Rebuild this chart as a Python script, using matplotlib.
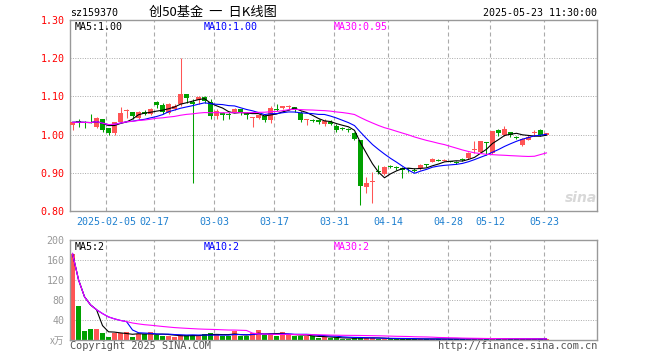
import matplotlib
matplotlib.use('Agg')
import matplotlib.pyplot as plt
import pandas as pd

# daily OHLC (index 0 = first candle)
opens = [1.026, 1.034, 1.032, 1.033, 1.019, 1.040, 1.016, 1.004, 1.033, 1.061,
         1.059, 1.044, 1.058, 1.055, 1.085, 1.078, 1.057, 1.067, 1.079, 1.105,
         1.086, 1.090, 1.099, 1.085, 1.048, 1.057, 1.055, 1.060, 1.066, 1.057,
         1.043, 1.044, 1.048, 1.038, 1.068, 1.069, 1.071, 1.073, 1.057, 1.039,
         1.038, 1.038, 1.028, 1.033, 1.022, 1.016, 1.014, 1.003, 0.985, 0.862,
         0.875, 0.906, 0.897, 0.918, 0.915, 0.913, 0.911, 0.908, 0.912, 0.922,
         0.927, 0.934, 0.932, 0.930, 0.927, 0.935, 0.939, 0.959, 0.955, 0.981,
         0.952, 1.013, 1.000, 1.006, 0.992, 0.974, 0.987, 1.005, 1.013, 1.000]
highs = [1.032, 1.042, 1.036, 1.053, 1.045, 1.042, 1.017, 1.034, 1.073, 1.068,
         1.059, 1.062, 1.064, 1.070, 1.087, 1.083, 1.084, 1.080, 1.201, 1.106,
         1.092, 1.101, 1.102, 1.092, 1.068, 1.060, 1.058, 1.070, 1.066, 1.058,
         1.046, 1.055, 1.052, 1.074, 1.079, 1.075, 1.078, 1.073, 1.063, 1.042,
         1.042, 1.040, 1.042, 1.037, 1.027, 1.019, 1.018, 1.007, 0.987, 0.890,
         0.903, 0.921, 0.917, 0.921, 0.917, 0.915, 0.913, 0.912, 0.924, 0.924,
         0.938, 0.937, 0.937, 0.932, 0.930, 0.938, 0.955, 0.982, 0.983, 0.981,
         1.010, 1.014, 1.022, 1.007, 0.996, 0.991, 0.999, 1.013, 1.014, 1.005]
lows = [1.011, 1.021, 1.017, 1.030, 1.018, 1.008, 0.999, 1.000, 1.033, 1.044,
        1.041, 1.040, 1.052, 1.052, 1.070, 1.053, 1.055, 1.064, 1.076, 1.083,
        0.873, 1.080, 1.084, 1.041, 1.041, 1.038, 1.040, 1.058, 1.052, 1.040,
        1.020, 1.042, 1.032, 1.031, 1.061, 1.066, 1.064, 1.058, 1.032, 1.026,
        1.032, 1.029, 1.022, 1.024, 1.008, 1.011, 1.006, 0.985, 0.816, 0.848,
        0.822, 0.896, 0.895, 0.913, 0.908, 0.886, 0.902, 0.902, 0.907, 0.916,
        0.927, 0.930, 0.930, 0.927, 0.924, 0.930, 0.935, 0.952, 0.953, 0.947,
        0.950, 0.997, 0.996, 0.995, 0.989, 0.969, 0.985, 0.997, 0.997, 0.998]
closes = [1.032, 1.033, 1.031, 1.030, 1.043, 1.011, 1.003, 1.032, 1.057, 1.063,
          1.048, 1.060, 1.053, 1.068, 1.078, 1.060, 1.079, 1.076, 1.105, 1.097,
          1.081, 1.099, 1.088, 1.048, 1.061, 1.052, 1.052, 1.068, 1.057, 1.052,
          1.046, 1.052, 1.037, 1.070, 1.064, 1.074, 1.073, 1.066, 1.037, 1.040,
          1.036, 1.032, 1.035, 1.028, 1.013, 1.014, 1.012, 0.989, 0.865, 0.874,
          0.878, 0.903, 0.915, 0.916, 0.913, 0.908, 0.909, 0.906, 0.921, 0.920,
          0.936, 0.932, 0.934, 0.929, 0.926, 0.933, 0.953, 0.961, 0.982, 0.979,
          1.009, 1.003, 1.015, 0.999, 0.991, 0.989, 0.995, 1.006, 0.998, 1.004]
# volume in 万
volumes = [173, 68, 18, 22, 22, 14, 6, 15, 14, 16,
           6, 12, 12, 16, 11, 8, 8, 6, 10, 10,
           10, 8, 12, 14, 12, 8, 8, 18, 8, 8,
           14, 20, 10, 12, 8, 16, 10, 8, 8, 8,
           8, 4, 6, 4, 4, 3, 3, 4, 6, 4,
           4, 2, 2, 2, 2, 2, 2, 2, 2, 2,
           2, 2, 2, 2, 2, 2, 3, 3, 3, 2,
           3, 2, 2, 2, 2, 2, 2, 2, 2, 2]

tick_idx = [6, 14, 24, 34, 44, 53, 63, 70, 79]
tick_labels = ['2025-02-05', '02-17', '03-03', '03-17', '03-31',
               '04-14', '04-28', '05-12', '05-23']
price_ticks = [0.80, 0.90, 1.00, 1.10, 1.20, 1.30]
vol_ticks = [40, 80, 120, 160, 200]

RED = '#ff5555'
GREEN = '#00a000'
FRAME = '#999999'
MONO = 'DejaVu Sans Mono'
CJK = ['Noto Sans CJK SC', 'DejaVu Sans']

W, H = 660, 360
fig = plt.figure(figsize=(6.6, 3.6), dpi=100)


def fx(x):
    return x / W


def fy(y):
    return 1 - y / H


ax = fig.add_axes([fx(70), fy(211), fx(597) - fx(70), fy(20) - fy(211)])
axv = fig.add_axes([fx(70), fy(340), fx(597) - fx(70), fy(240) - fy(340)])

n = len(closes)
x = list(range(n))
up = [c >= o for o, c in zip(opens, closes)]
cols = [RED if u else GREEN for u in up]
xmin, xmax = -0.42, 87.42
grid_x = [i - 0.35 for i in tick_idx]

# price panel
for gy in price_ticks[1:-1]:
    ax.axhline(gy, color='#aaaaaa', lw=0.7, ls=(0, (1, 1.5)), zorder=0)
for gx in grid_x:
    ax.axvline(gx, color='#aaaaaa', lw=0.8, ls=(0, (3.6, 2.7)), zorder=0)

ax.vlines(x, lows, highs, colors=cols, lw=0.75, zorder=2)
bottoms = [min(o, c) for o, c in zip(opens, closes)]
heights = [max(abs(c - o), 0.0026) for o, c in zip(opens, closes)]
ax.bar(x, heights, bottom=bottoms, width=0.83, color=cols, linewidth=0, zorder=3)

cs = pd.Series(closes)
ax.plot(x, cs.rolling(5, min_periods=1).mean(), color='black', lw=0.8, zorder=4)
ax.plot(x, cs.rolling(10, min_periods=1).mean(), color='#0000ff', lw=0.8, zorder=4)
ax.plot(x, cs.rolling(30, min_periods=1).mean(), color='#ff00ff', lw=0.8, zorder=4)

ax.set_xlim(xmin, xmax)
ax.set_ylim(0.80, 1.30)
ax.set_yticks(price_ticks)
ax.set_yticklabels(['%.2f' % v for v in price_ticks], color='red',
                   family=MONO, fontsize=7.2)
ax.set_xticks(grid_x)
ax.set_xticklabels(tick_labels, color='#1f80d0', family=MONO, fontsize=7.2)
ax.tick_params(length=0, pad=4)

# volume panel
for gy in vol_ticks[:-1]:
    axv.axhline(gy, color='#aaaaaa', lw=0.7, ls=(0, (1, 1.5)), zorder=0)
for gx in grid_x:
    axv.axvline(gx, color='#aaaaaa', lw=0.8, ls=(0, (3.6, 2.7)), zorder=0)
axv.bar(x, volumes, width=0.83, color=cols, linewidth=0, zorder=2)
vs = pd.Series(volumes)
axv.plot(x, vs.rolling(5, min_periods=1).mean(), color='black', lw=0.8, zorder=4)
axv.plot(x, vs.rolling(10, min_periods=1).mean(), color='#0000ff', lw=0.8, zorder=4)
axv.plot(x, vs.rolling(30, min_periods=1).mean(), color='#ff00ff', lw=0.8, zorder=4)
axv.set_xlim(xmin, xmax)
axv.set_ylim(0, 200)
axv.set_xticks([])
axv.set_yticks(vol_ticks)
axv.set_yticklabels([str(v) for v in vol_ticks], color='#999999',
                    family=MONO, fontsize=7.2)
axv.tick_params(length=0, pad=4)

for a in (ax, axv):
    for s in a.spines.values():
        s.set_color(FRAME)
        s.set_linewidth(1.0)

# texts
fig.text(fx(70), fy(12.5), 'sz159370', family=MONO, fontsize=7.2, va='center')
fig.text(fx(213), fy(12.5), '创50基金  一  日K线图', family=CJK, fontsize=9.5,
         va='center', ha='center')
fig.text(fx(597), fy(12.5), '2025-05-23 11:30:00', family=MONO, fontsize=7.2,
         va='center', ha='right')

fig.text(fx(75), fy(27), 'MA5:1.00', family=MONO, fontsize=7.2, va='center')
fig.text(fx(204), fy(27), 'MA10:1.00', family=MONO, fontsize=7.2, va='center',
         color='#0000ff')
fig.text(fx(334), fy(27), 'MA30:0.95', family=MONO, fontsize=7.2, va='center',
         color='#ff00ff')
fig.text(fx(75), fy(247), 'MA5:2', family=MONO, fontsize=7.2, va='center')
fig.text(fx(204), fy(247), 'MA10:2', family=MONO, fontsize=7.2, va='center',
         color='#0000ff')
fig.text(fx(334), fy(247), 'MA30:2', family=MONO, fontsize=7.2, va='center',
         color='#ff00ff')

fig.text(fx(64), fy(341), 'x万', family=CJK, fontsize=7, va='center',
         ha='right', color='#999999', style='italic')
fig.text(fx(70), fy(346), 'Copyright 2025 SINA.COM', family=MONO, fontsize=7.4,
         va='center', color='#555555')
fig.text(fx(597), fy(346), 'http://finance.sina.com.cn', family=MONO,
         fontsize=7.4, va='center', ha='right', color='#555555')
fig.text(fx(581), fy(198), 'sina', family='DejaVu Sans', fontsize=10,
         weight='bold', style='italic', va='center', ha='center',
         color='#d8d8d8')

fig.savefig('out.png', dpi=100)
